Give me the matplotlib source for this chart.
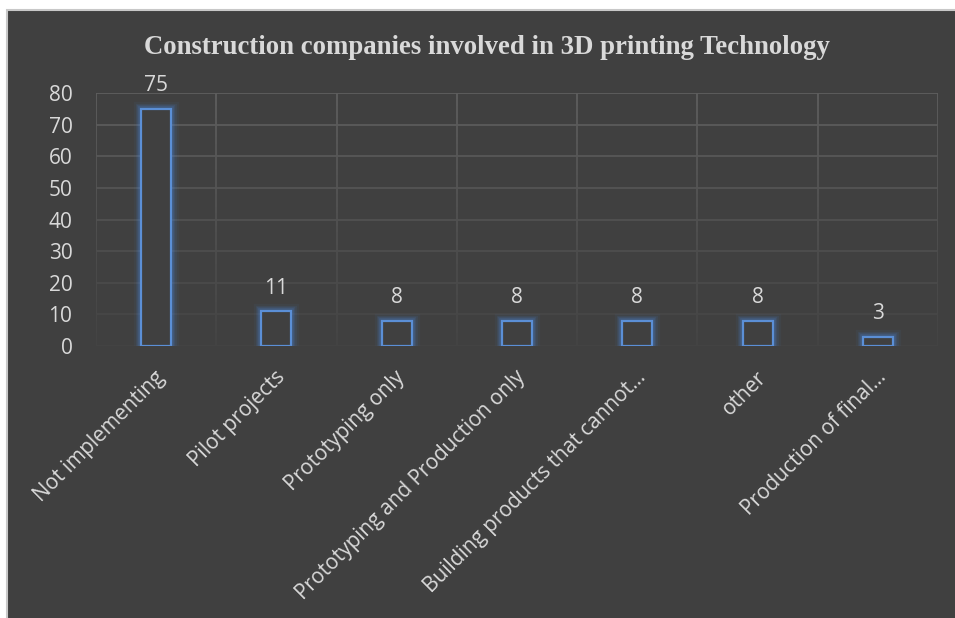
import matplotlib
matplotlib.use("Agg")
import matplotlib.pyplot as plt
import numpy as np
from matplotlib.patches import Rectangle
from matplotlib.collections import LineCollection
import matplotlib.transforms as mtransforms

categories = ["Not implementing", "Pilot projects", "Prototyping only",
              "Prototyping and Production only", "Building products that cannot…",
              "other", "Production of final…"]
values = [75, 11, 8, 8, 8, 8, 3]
yticks = [0, 10, 20, 30, 40, 50, 60, 70, 80]
title = "Construction companies involved in 3D printing Technology"

W, H = 955, 618
fig = plt.figure(figsize=(W / 100, H / 100), dpi=100)
fig.patch.set_facecolor("white")
bg = "#404040"
fig.patches.append(Rectangle((7 / W, -0.1), 1.2, 1.1 - 10 / H, transform=fig.transFigure,
                             facecolor=bg, edgecolor="#c8c8c8", linewidth=1.5, zorder=-10))

left, right, top, bottom = 96, 938, 93, 346
ax = fig.add_axes([left / W, 1 - bottom / H, (right - left) / W, (bottom - top) / H])
ax.set_facecolor("none")
n = len(categories)
x = np.arange(n)
ax.set_xlim(-0.5, n - 0.5)
ax.set_ylim(0, 80)

# gradient gridlines
def gcol(frac):
    lo = np.array([0x44, 0x44, 0x44]) / 255
    hi = np.array([0x5e, 0x5e, 0x5e]) / 255
    return tuple(lo + (hi - lo) * frac)

for t in yticks:
    ax.axhline(t, color=gcol(t / 80), linewidth=1.3, zorder=0)
segs, cols = [], []
ys = np.linspace(0, 80, 41)
for xv in np.arange(-0.5, n, 1.0):
    for a, b in zip(ys[:-1], ys[1:]):
        segs.append([(xv, a), (xv, b)])
        cols.append(gcol((a + b) / 160))
ax.add_collection(LineCollection(segs, colors=cols, linewidths=1.3, zorder=0))

for s in ax.spines.values():
    s.set_visible(False)

bw = 0.25
# glow
for lw, al in [(11, 0.06), (8, 0.09), (6, 0.13), (4, 0.2)]:
    ax.bar(x, values, width=bw, facecolor="none", edgecolor="#4a86d8", linewidth=lw,
           alpha=al, zorder=2)
ax.bar(x, values, width=bw, facecolor=bg, edgecolor="#5b8fd6", linewidth=1.6, zorder=3)

txtc = "#d9d9d9"
for xi, v in zip(x, values):
    ax.annotate(str(v), (xi, v), xytext=(0, 9), textcoords="offset points",
                ha="center", va="bottom", color=txtc, fontsize=15, family="Open Sans")

ax.set_yticks(yticks)
ax.set_yticklabels([str(t) for t in yticks], color=txtc, fontsize=15, family="Open Sans")
ax.set_xticks(x)
ax.set_xticklabels(categories, rotation=45, ha="right", rotation_mode="anchor",
                   color=txtc, fontsize=15, family="Open Sans")
ax.tick_params(axis="both", length=0)
ax.tick_params(axis="y", pad=17)
ax.tick_params(axis="x", pad=15)
offset = mtransforms.ScaledTranslation(-2 / 100, 0, fig.dpi_scale_trans)
for lbl in ax.get_xticklabels():
    lbl.set_transform(lbl.get_transform() + offset)

fig.text(0.5 * (145 + 828) / W, 1 - 47 / H, title, ha="center", va="center",
         color=txtc, fontsize=19.3, fontweight="bold", family="Liberation Serif")

fig.savefig("out.png", dpi=100, facecolor=fig.get_facecolor())
